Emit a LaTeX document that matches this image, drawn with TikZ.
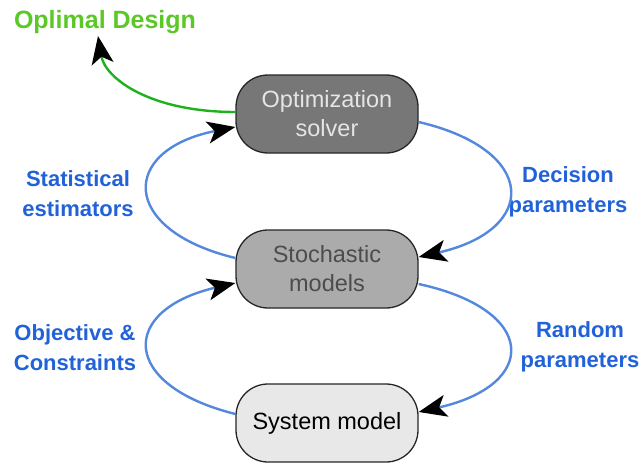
\documentclass[tikz,border=0pt]{standalone}
\usepackage{fontspec}
\setmainfont{Liberation Sans}
\usetikzlibrary{arrows.meta}

\definecolor{boxdark}{HTML}{777777}
\definecolor{boxmid}{HTML}{ABABAB}
\definecolor{boxlight}{HTML}{E8E8E8}
\definecolor{lblblue}{HTML}{2262D8}
\definecolor{flowblue}{HTML}{5388DC}
\definecolor{lblgreen}{HTML}{5CC828}
\definecolor{flowgreen}{HTML}{1DB21D}

\tikzset{
  flow/.style={line width=2.4pt, -{Stealth[length=28pt 0, width=22pt 0, inset=7pt, color=black]}}
}

\begin{document}
\begin{tikzpicture}[x=1pt,y=-1pt]

        \useasboundingbox (0,0) rectangle (641,463);

        \begin{scope}[every node/.style={draw=black!85, line width=1.3pt, rounded corners=32pt,
            minimum width=182pt, minimum height=78pt, align=center,
            font=\fontsize{23.5}{29}\selectfont}]
          \node[fill=boxdark, text=black!10] (solver) at (327,114) {Optimization\\solver};
          \node[fill=boxmid, text=black!70]  (stoch)  at (327,269) {Stochastic\\models};
          \node[fill=boxlight]               (sysmod) at (327,423) {System model};
        \end{scope}

        \begin{scope}[every node/.style={align=center, text=lblblue,
            font=\bfseries\fontsize{22}{30}\selectfont}]
          \node (stat)   at (78,194)  {Statistical\\estimators};
          \node (decis)  at (568,192) {Decision\\parameters};
          \node (objcon) at (75,348)  {Objective \&\\Constraints};
          \node (random) at (580,347) {Random\\parameters};
        \end{scope}

        \node[text=lblgreen, font=\bfseries\fontsize{25}{30}\selectfont] (design) at (105,22) {Oplimal Design};
        \coordinate (tip) at (98,36);

        % loop between solver and stochastic models
        \draw[flow, flowblue] ([yshift=11pt]stoch.west) .. controls +(-116,-28) and +(-116,23) .. ([yshift=-13pt]solver.west);
        \draw[flow, flowblue] ([yshift=-8pt]solver.east) .. controls +(120,28) and +(120,-27) .. ([yshift=12pt]stoch.east);

        % loop between stochastic models and system model
        \draw[flow, flowblue] ([yshift=9pt]sysmod.west) .. controls +(-116,-29) and +(-116,27) .. ([yshift=-14pt]stoch.west);
        \draw[flow, flowblue] ([yshift=-15pt]stoch.east) .. controls +(120,26) and +(120,-27) .. ([yshift=11pt]sysmod.east);

        % result
        \draw[flow, flowgreen] ([yshift=2pt]solver.west) .. controls +(-86,0) and +(7,42) .. (tip);

\end{tikzpicture}
\end{document}
